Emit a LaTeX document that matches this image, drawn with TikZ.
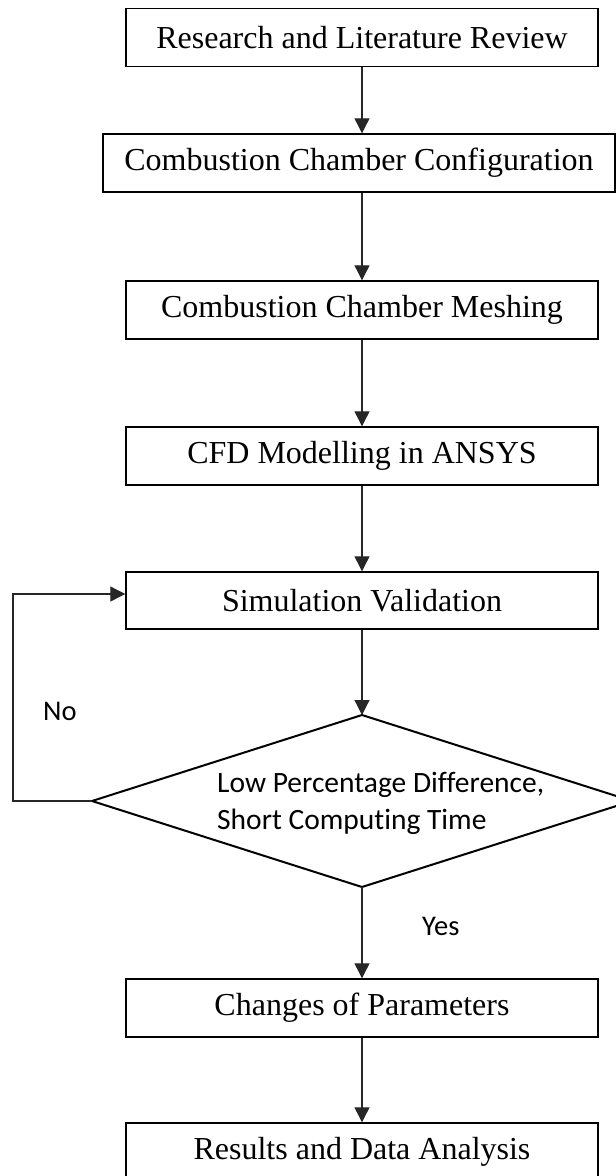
\documentclass[tikz,border=0pt]{standalone}
\usepackage{fontspec}
\setmainfont{Liberation Serif}
\newfontfamily\calib[Ligatures=NoCommon]{Carlito}
\usetikzlibrary{arrows.meta}
\begin{document}
\begin{tikzpicture}[x=1pt,y=-1pt,
  stepbox/.style={draw=black, line width=1.4pt, minimum width=472pt, minimum height=58pt, inner sep=0pt,
    font=\fontsize{32}{38}\selectfont},
  flow/.style={draw=black!85, line width=1.1pt, -{Triangle[length=15pt,width=15pt]}},
  lab/.style={font=\calib\fontsize{28.5}{34}\selectfont, inner sep=0pt}]
\useasboundingbox[fill=white] (0,0) rectangle (616,1176);
\node[stepbox] (b1) at (362,37.5) {Research and Literature Review};
\node[stepbox, minimum width=512pt] (b2) at (359,163) {Combustion Chamber Configuration};
\node[stepbox] (b3) at (362,310) {Combustion Chamber Meshing};
\node[stepbox] (b4) at (362,456) {CFD Modelling in ANSYS};
\node[stepbox, minimum height=57pt] (b5) at (362,600.5) {Simulation Validation};
\node[stepbox] (b6) at (362,1008) {Changes of Parameters};
\node[stepbox] (b7) at (362,1152) {Results and Data Analysis};
\coordinate (dT) at (362,715);
\coordinate (dL) at (92,801);
\coordinate (dR) at (632,801);
\coordinate (dB) at (362,887);
\draw[line width=2pt, line join=miter] (dT) -- (dR) -- (dB) -- (dL) -- cycle;
\node[lab, align=left, anchor=west, font=\calib\fontsize{29.5}{37}\selectfont] (dtext) at (217,803) {Low Percentage Difference,\\Short Computing Time};
\node[lab, anchor=west] (no) at (43,711) {No};
\node[lab, anchor=west] (yes) at (422,926) {Yes};
\coordinate (l1) at (13,801);
\coordinate (l2) at (13,594);
\draw[flow] (b1.south) -- (b1.south |- b2.north);
\draw[flow] (b2.south -| b3.north) -- (b3.north);
\draw[flow] (b3) -- (b4);
\draw[flow] (b4) -- (b5);
\draw[flow] (b5.south) -- (dT);
\draw[flow] (dB) -- (b6.north);
\draw[flow] (b6) -- (b7);
\draw[flow] (dL) -- (l1) -- (l2) -- (l2 -| b5.west);
\end{tikzpicture}
\end{document}
